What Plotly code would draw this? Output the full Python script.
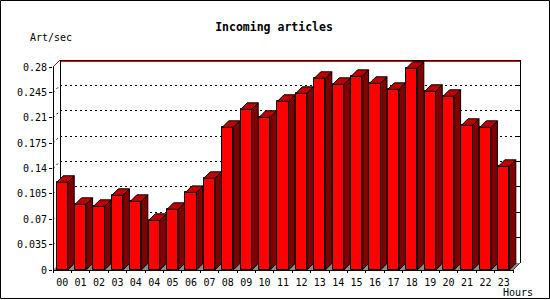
import math
import plotly.graph_objects as go

# ---- data ----
hours = ["00", "01", "02", "03", "04", "04", "05", "06", "07", "08", "09", "10", "11",
         "12", "13", "14", "15", "16", "17", "18", "19", "20", "21", "22", "23"]
rate = [0.121, 0.0906, 0.0878, 0.103, 0.0947, 0.0685, 0.0837, 0.107, 0.1265,
        0.1968, 0.2216, 0.2106, 0.2327, 0.2437, 0.2644, 0.2561, 0.2671, 0.2575,
        0.2492, 0.2782, 0.2465, 0.2396, 0.1996, 0.1968, 0.143]
yticks = [0, 0.035, 0.07, 0.105, 0.14, 0.175, 0.21, 0.245, 0.28]
ytick_text = ["0", "0.035", "0.07", "0.105", "0.14", "0.175", "0.21", "0.245", "0.28"]

# ---- layout geometry ----
W, H = 550, 300
L, R, T, B = 53, 520, 60, 270
FD = 7      # frame depth (px)
BD = 6.5    # bar depth (px)
BW = 0.6    # bar width (category units)
n = len(rate)
ymax = yticks[-1]
sx = (R - FD - L) / n
sy = (B - T - FD) / ymax
xr = [-0.5, n - 0.5 + FD / sx]
yr = [0, ymax + FD / sy]
fdx, fdy = FD / sx, FD / sy
bdx, bdy = BD / sx, BD / sy

FONT = "DejaVu Sans Mono"


def to_px_x(xd):
    return L + (xd - xr[0]) / (xr[1] - xr[0]) * (R - L)


def to_px_y(yd):
    return B - (yd - yr[0]) / (yr[1] - yr[0]) * (B - T)


def paper_x(p):
    return (p - L) / (R - L)


def paper_y(p):
    return (B - p) / (B - T)


def snap(p):
    return math.floor(p + 1e-6) + 0.5


shapes = []


def pline(x0, y0, x1, y1, color="black", dash="solid", layer="above", width=1, crisp=True):
    """line given in data coords, drawn in paper coords (unclipped)"""
    X0, Y0, X1, Y1 = to_px_x(x0), to_px_y(y0), to_px_x(x1), to_px_y(y1)
    if crisp:
        if abs(X0 - X1) < 1e-6:
            X0 = X1 = snap(X0)
        if abs(Y0 - Y1) < 1e-6:
            Y0 = Y1 = snap(Y0)
    shapes.append(dict(type="line", xref="paper", yref="paper",
                       x0=paper_x(X0), y0=paper_y(Y0), x1=paper_x(X1), y1=paper_y(Y1),
                       line=dict(color=color, width=width, dash=dash), layer=layer))


# floor
shapes.append(dict(type="path", xref="x", yref="y", layer="below",
                   path=f"M {-0.5},0 L {-0.5 + fdx},{fdy} L {n - 0.5 + fdx},{fdy} L {n - 0.5},0 Z",
                   fillcolor="#8c8c8c", line=dict(width=0)))

# back grid lines + diagonal connectors + right-wall ticks
for t in yticks[1:-1]:
    pline(-0.5 + fdx, t + fdy, n - 0.5 + fdx, t + fdy, dash="2px,3px", layer="below")
    pline(-0.5, t, -0.5 + fdx, t + fdy, dash="2px,3px", layer="below", crisp=False)
    pline(n - 0.5 + fdx - 3 / sx, t + fdy, n - 0.5 + fdx, t + fdy, layer="below")

# back wall top (black + red), top-left diagonal
pline(-0.5 + fdx, ymax + fdy, n - 0.5 + fdx, ymax + fdy, layer="below")
pline(-0.5 + fdx, ymax + fdy - 1 / sy, n - 0.5 + fdx, ymax + fdy - 1 / sy, color="red", layer="below")
pline(-0.5, ymax, -0.5 + fdx, ymax + fdy, color="#c00000", layer="below", crisp=False)
# back wall verticals
pline(-0.5 + fdx, fdy, -0.5 + fdx, ymax + fdy, layer="below")
pline(n - 0.5 + fdx, 0 + fdy, n - 0.5 + fdx, ymax + fdy, layer="below")
# bottom-right diagonal
pline(n - 0.5, 0, n - 0.5 + fdx, fdy, layer="below", crisp=False)

# front axes
pline(-0.5, 0, -0.5, ymax, layer="above")
pline(-0.5, 0, n - 0.5, 0, layer="above")
# x ticks at category boundaries
for k in range(n + 1):
    xb = k - 0.5
    pline(xb, 0, xb, -3 / sy, layer="above")

# outer frame
shapes.append(dict(type="rect", xref="paper", yref="paper",
                   x0=paper_x(0.5), x1=paper_x(W - 0.5), y0=paper_y(0.5), y1=paper_y(H - 1.5),
                   line=dict(color="black", width=1), fillcolor="rgba(0,0,0,0)", layer="above"))

# ---- traces ----
fig = go.Figure()
idx = list(range(n))
fig.add_trace(go.Bar(x=idx, y=rate, width=BW, marker=dict(color="#ff0000", line=dict(color="black", width=1)),
                     hoverinfo="skip", showlegend=False))

sx_, sy_ = [], []
tx_, ty_ = [], []
for i, v in enumerate(rate):
    xl, xrgt = i - BW / 2, i + BW / 2
    sx_ += [xrgt, xrgt, xrgt + bdx, xrgt + bdx, xrgt, None]
    sy_ += [0, v, v + bdy, bdy, 0, None]
    tx_ += [xl, xl + bdx, xrgt + bdx, xrgt, xl, None]
    ty_ += [v, v + bdy, v + bdy, v, v, None]

fig.add_trace(go.Scatter(x=sx_, y=sy_, mode="lines", fill="toself", fillcolor="#800000",
                         line=dict(color="black", width=1), hoverinfo="skip", showlegend=False))
fig.add_trace(go.Scatter(x=tx_, y=ty_, mode="lines", fill="toself", fillcolor="#c00000",
                         line=dict(color="black", width=1), hoverinfo="skip", showlegend=False))

fig.update_layout(
    width=W, height=H,
    margin=dict(l=L, r=W - R, t=T, b=H - B, pad=0),
    paper_bgcolor="white", plot_bgcolor="rgba(0,0,0,0)",
    showlegend=False,
    bargap=0,
    title=dict(text="<b>Incoming articles</b>", x=274 / W, xref="container", xanchor="center",
               y=1 - 27 / H, yref="container", yanchor="middle",
               font=dict(family=FONT, size=11.5, color="black")),
    xaxis=dict(range=xr, showgrid=False, zeroline=False, showline=False,
               tickmode="array", tickvals=idx, ticktext=hours,
               ticks="outside", ticklen=3, tickcolor="rgba(0,0,0,0)",
               tickfont=dict(family=FONT, size=10, color="black"), fixedrange=True),
    yaxis=dict(range=yr, showgrid=False, zeroline=False, showline=False,
               tickmode="array", tickvals=yticks, ticktext=ytick_text,
               ticks="outside", ticklen=3, tickcolor="black", tickwidth=1,
               tickfont=dict(family=FONT, size=10, color="black"), fixedrange=True),
    shapes=shapes,
    annotations=[
        dict(text="Art/sec", xref="paper", yref="paper", x=paper_x(51), y=paper_y(38),
             xanchor="center", yanchor="middle", showarrow=False,
             font=dict(family=FONT, size=10, color="black")),
        dict(text="Hours", xref="paper", yref="paper", x=paper_x(535), y=paper_y(292),
             xanchor="right", yanchor="middle", showarrow=False,
             font=dict(family=FONT, size=10, color="black")),
    ],
)

fig.write_html("out.html")
